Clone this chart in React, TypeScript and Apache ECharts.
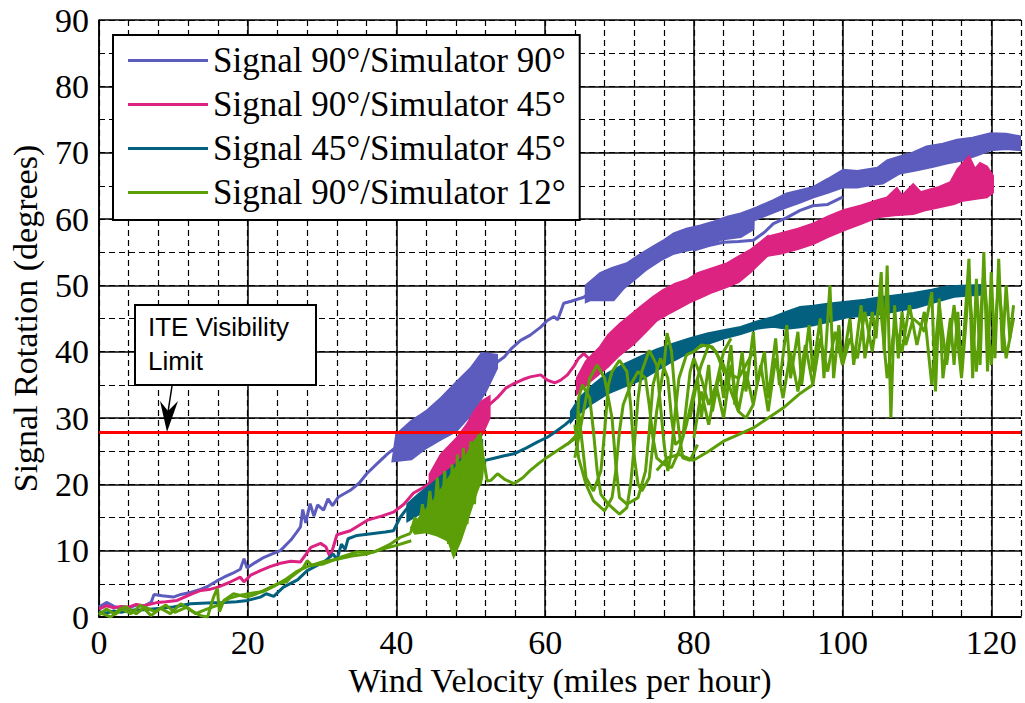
import React, { useEffect, useRef } from "react";
import * as echarts from "echarts";

// ---------- labels ----------
const seriesNames = [
  "Signal 90°/Simulator 90°",
  "Signal 90°/Simulator 45°",
  "Signal 45°/Simulator 45°",
  "Signal 90°/Simulator 12°",
];
const seriesColors = ["#5c5cbe", "#dc2382", "#03607f", "#5b9e08"];
const xTitle = "Wind Velocity (miles per hour)";
const yTitle = "Signal Rotation (degrees)";
const iteLimit = [27.8];

// ---------- Signal 90 / Simulator 90 (blue) ----------
const blueRise = [[0,1.5],[1,2.2],[2,1.6],[3,1.3],[4,1.4],[5,1.8],[6,1.6],[7,2.2],[7.4,3.4],[8.5,3.2],[10,3],[11,3.4],[12.3,3.7],[13.5,4.1],[14.6,4.6],[15.8,5.4],[16.8,6],[18,6.6],[19,7.2],[19.5,8.8],[19.9,7.4],[21,8.2],[22.2,9],[23.3,9.5],[24.4,10],[25.8,11.6],[26.6,12.8],[27.1,13.6],[27.4,16.2],[27.8,14.2],[28.4,17.1],[28.9,15.2],[29.4,16.9],[30.2,16.1],[30.8,17.8],[31.4,16.8],[32.2,18.1],[33.8,19.1],[35,20.2],[36,21.6],[37.3,23],[38.8,24.6],[40.5,26.1],[41.5,27.2]];
const blueBand1Upper = [[40,27.5],[42,29.5],[44,31],[46,33],[48,35.3],[50,37.5],[51.5,39.8],[53.5,39.5]];
const blueBand1Lower = [[39.5,23.5],[42,23.8],[44,25.5],[46,26.8],[48,28],[50,30.5],[52,34],[53.5,37.5]];
const blueLink = [[53,38],[54.5,39.2],[55.5,40.5],[56.7,41.7],[58,42.5],[59.4,43.7],[60.3,44.7],[61.2,45.3],[61.7,44.8],[62.5,47.3],[63.5,47.6],[65.2,48.2],[66.5,49.3]];
const blueBand2Upper = [[65.5,50],[67.4,51.8],[69,52.6],[71,53.3],[73,54.8],[74.5,55.8],[76,56.8],[77.3,57.8],[79,58.5],[80.9,59],[82.5,59.5],[84.5,60.3],[86.3,60.8],[88,61.5]];
const blueBand2Lower = [[65.5,47.5],[66.1,47.8],[69.2,47.8],[70.5,49.5],[71.9,50.8],[73.5,52.3],[75.5,53.8],[77.3,54.8],[79.1,55.3],[80.5,55.6],[82.2,56.3],[84,57],[86.3,57.3],[88,58.5]];
const blueBand3Upper = [[88,61.5],[90.7,62.8],[92.5,63.8],[94.3,64.3],[96.1,64.8],[98,66],[100.1,67.4],[102,67.2],[104.7,67.7],[106,68.8],[107.7,69.4],[109.5,70],[111.3,70.9],[113.5,71.3],[115.4,71.9],[117.5,72.2],[119.9,72.9],[122,72.8],[124,72.4]];
const blueBand3Lower = [[88,59.8],[90.7,61],[92.5,61.8],[94.3,62.5],[96.1,63.3],[98,64],[100.1,64.8],[102,64.8],[104,65.2],[105.4,65.4],[107.7,66.9],[110,67.4],[112.2,67.9],[114,68.4],[116.2,68.9],[118,69.6],[119.9,70.4],[122,70.6],[124,70.4]];
const blueReturn = [[80,55.3],[82,56],[84,56.5],[86,56.6],[88,56.8],[89.5,58],[90.7,59.3],[92.5,60.2],[94.3,61.3],[96,62],[98,62.2],[100,63.3]];

// ---------- Signal 90 / Simulator 45 (magenta) ----------
const magRise = [[0,1.2],[1,1.7],[2,1.4],[3,1.6],[4,1.5],[5,1.9],[6,1.7],[7.9,2.2],[9,2.3],[10.5,2.5],[11.5,3],[12.5,3.5],[13.7,4],[15,4.2],[16,4.5],[17.5,5.2],[19,6],[19.5,5.3],[20.4,6.3],[21.7,7],[23,7.6],[24.4,8.1],[25.8,8.4],[27.1,8.3],[28.5,10.5],[29.8,11.1],[30.5,10.6],[31.1,9],[32,12.4],[33.8,13],[36.1,14.6],[38,15.2],[39.6,15.8],[41,17],[42.3,18.7],[44.1,19.8],[45.5,21.5]];
const magBand1Upper = [[44.5,21.5],[46,24.5],[48,26.8],[49.5,29],[50.5,31],[51.5,32.5],[52.5,33.2]];
const magBand1Lower = [[44.5,19.5],[46,20.5],[48,22.3],[49.5,24.2],[50.5,26],[51.5,27.5],[52.5,30]];
const magLink = [[51.3,30.1],[52.5,32],[53.6,33.1],[54.7,34.5],[55.8,35.2],[57,35.8],[58,36.2],[59.4,36.5],[60.3,35.7],[61.3,35.3],[62.1,35.7],[63,36.5],[63.8,37.7],[64.5,39],[65.2,39.7],[66.1,38.7],[65.5,37],[64.7,34.2]];
const magBand2Upper = [[64.3,36],[65.5,38.5],[67.4,40.7],[68.5,42.5],[70.1,44.2],[71.5,45.5],[72.8,46.7],[74.5,48.2],[75.9,49.3],[77.5,50.2],[79.1,50.8],[80.5,51.8],[81.8,52.3],[83.2,52.8],[84.5,53.3],[86,54.3],[87.6,55.3],[89.9,57.3]];
const magBand2Lower = [[64.3,33.7],[66,35.5],[68.4,37.7],[70,39.5],[71.9,41.2],[73.5,43],[75,44.7],[76.5,45.7],[78.2,46.7],[79.5,47.5],[80.9,48.2],[82.5,49],[84.5,49.8],[86,50.5],[87.6,52],[89.9,54.5]];
const magBand3Upper = [[89.9,57.3],[91.6,57.8],[94,58.5],[96.1,59.3],[98,60.3],[100.1,61.3],[102.5,62],[104.7,62.8],[106,63.2],[107.3,64.6],[108,63.5],[109.5,65.2],[110.5,64],[112,64.5],[113,64.8],[114.5,65.5],[115.5,67.5],[116.2,68.4],[117,69.4],[117.8,67.5],[118.5,68.4],[119.4,67.9],[120.2,66.5]];
const magBand3Lower = [[89.9,54.5],[91.6,54.8],[94,55.5],[96.1,56.3],[98,57.3],[100.1,58.3],[102.5,59.3],[104.7,60.3],[107,60.6],[109.5,60.8],[111,61.3],[113,61.8],[115,62.3],[116.2,62.8],[118,63.1],[119.4,63.3],[120.2,64]];

// ---------- Signal 45 / Simulator 45 (teal) ----------
const tealRise = [[0,0.8],[1,0.6],[2,0.9],[3,0.7],[4,1],[6,1.1],[8,1.3],[10,1.5],[12.3,2],[14.5,2.1],[16.8,2.2],[18.5,2.3],[20,2.5],[21.7,3],[22.5,3.5],[23.5,3.1],[24.8,4.5],[26.7,5.6],[28,7],[29.4,7.8],[30.5,8.5],[31.5,9.5],[32,8.6],[32.6,11],[33.1,10.2],[33.5,11.8],[34.7,12.3],[36.9,12.6],[38.5,12.8],[39.6,13],[40.5,15],[41.5,16.5],[42.8,18]];
const tealBand1Upper = [[41.5,17],[43,18.5],[44.5,19.8],[46,21.2],[47.5,22.5],[49,24],[50.5,25.5],[51.5,26.5]];
const tealBand1Lower = [[41.5,14.5],[43,15.5],[44.5,16.5],[46,17.3],[47.5,18.5],[49,20],[50.5,21.8],[51.5,23]];
const tealLink = [[50,23.1],[51.5,23.5],[53,23.9],[54.5,24.3],[55.8,24.6],[57.5,25.5],[59,26.4],[60.3,27.1],[61.5,28],[62.7,29],[63.8,30.1],[64.7,32.3]];
const tealBand2Upper = [[63.5,31],[64.7,33.1],[66.5,35],[68.4,36.7],[70.5,38],[72.8,39.2],[75,40.3],[77.3,41.2],[79.5,42],[81.8,42.7],[84,43.2],[86.3,43.7],[88.5,44.5],[90.7,45.2],[92.5,46],[94.3,46.7],[96.1,46.9],[98,47.2],[100.5,47.5],[103,47.8],[105.3,48.2],[107.5,48.5],[109.5,48.8],[112,49.3],[114,49.8],[116,49.9],[118.5,50]];
const tealBand2Lower = [[63.5,29.5],[64,30.2],[66,32],[68.4,33.7],[70.5,34.7],[72.8,35.7],[75,37.2],[77.3,38.7],[79.5,40],[81.8,41.2],[84,42],[86.3,42.7],[88.5,43.5],[90.7,43.8],[92.5,43.5],[94.3,43.7],[96.1,44],[98,44.5],[100.5,45.2],[103,45.5],[105.3,45.7],[107.5,46.2],[110,46.7],[112.5,47.5],[115,48.3],[117,48.5],[118.5,48.6]];

// ---------- Signal 90 / Simulator 12 (green) ----------
const greenRise = [[0,0.7],[1.6,0],[2.9,1.3],[4.3,0.5],[5.6,1.8],[7,0.2],[8.3,1.3],[9.6,0.5],[11,2],[12.3,1],[13.7,0.2],[14.6,0],[15.4,3],[15.9,4.3],[16.2,0.8],[16.8,2.5],[18.1,3.5],[19.9,3],[21,3.4],[22.2,4],[24,5],[25.2,5.3],[25.8,6],[27,7],[27.5,7.5],[28,8.5],[28.6,7.8],[30.2,8],[32.5,9],[34.7,9.8],[37,9.8],[39.2,11],[40.5,12],[41.9,12.6]];
const greenRise2 = [[0,0.3],[1,1.2],[2.2,0.4],[3.5,1.6],[5,0.5],[6.2,1.5],[7.5,0.8],[9,1.8],[10.2,0.7],[11.8,1.5],[13,0.5],[14.5,1.2],[16,1.8],[17.5,2.8],[19,3.3],[20.5,3.6],[22,3.8],[23.5,4.6],[25,5.6],[26.5,6.8],[28,7.6],[30,8.3],[32,8.7],[34,9.2],[36,9.5],[38,10.2],[40,10.8],[42,11.5]];
const greenBlob = [[42,13.5],[43.5,15.5],[45,17.5],[46.5,20],[48,22.5],[49.5,24.5],[50.5,26.5],[51.3,27.5],[51.7,24],[51.5,21],[50.5,18],[49.5,14.5],[48.6,11.5],[47.7,9.2],[47,11.5],[45.5,12.3],[44,12.8],[42.5,12.6]];
const greenBlobZig = [[41.9,12.6],[42.5,15],[43,13],[43.5,17],[44,13.5],[44.5,19],[45,14],[45.5,21],[46,13],[46.5,22],[47,11],[47.5,23],[47.8,9.2],[48.2,24.5],[48.6,12],[49,25.5],[49.5,14],[50,26.5],[50.5,17],[51,27.5],[51.3,20],[51.7,24],[52.2,20.5],[52.7,20.6],[53.6,21.6],[54.5,20.8],[55.8,20.1],[57,21],[58,22.1],[59.2,23.2],[60.3,24.1],[61.5,25],[63,26.1],[64.3,27.1]];
const greenChaosA = [[63,26],[64.3,27.5],[64.5,33],[65,35],[66,33],[66.5,28],[67,22],[67.5,18.5],[68.5,17],[70,15.5],[71,16.5],[71.5,20],[72,26],[72.5,33],[73,37],[74,40.2],[75,38],[75.5,32],[76,26],[76.5,22],[77,25],[77.5,31],[78,36],[79,39.5],[80,40],[81,41],[82.5,40.7],[84,38],[85,34],[86,31],[87,30],[88,32]];
const greenChaosB = [[64.5,31],[65,26],[65.5,21],[66.5,19],[67.5,22],[68,28],[68.5,35],[69,37],[70,38.7],[71,37],[71.5,32],[72,24],[72.5,20],[73,19],[74,21],[74.5,26],[75,31],[76,38],[76.4,42.8],[77,40],[77.5,33],[78,28],[78.5,24],[79.5,23.6],[80.5,26]];
const greenChaosC = [[64,24],[65,30],[66,36],[67,38],[68,36],[69,30],[69.5,23],[70,18],[71,17],[72.5,18],[73.5,22],[74,28],[74.5,35],[75.5,39],[76.5,36],[77,30],[77.5,26],[78.5,27],[79,32],[79.5,37],[80,39],[81,36],[82,32],[83,35],[84,40],[85,42]];
const greenChaosD = [[64,29],[64.5,24],[65.5,20],[66.5,17.5],[68,16],[69,18],[69.5,22],[70,28],[70.5,32],[71.5,35],[72.5,37],[73.5,36],[74,32],[74.5,27],[75,24],[76,23],[77,22.5],[78,25],[79,29],[80,34],[81,38],[82,41],[83,40],[84,37],[86,36],[88,40]];
const greenCross = [[75,22.1],[76.5,24],[78,24.5],[79.9,23.6],[82,25],[84,26.5],[86,27.5],[88,28.5],[90,30],[92,31.5],[94.3,33.7],[96,35]];
const greenOscA = [[79.5,30],[80.5,36],[81,30],[82,38],[82.5,31],[83.5,37],[84,33],[85,41],[85.5,32],[86.5,40],[87,34],[88,43],[88.5,35],[89.5,40],[90,33],[91,42],[91.5,35],[92.5,44],[93,36],[94,43],[94.5,35],[95.5,44],[96,37],[97,45],[97.5,36],[98.3,50],[98.8,36],[99.5,44],[100,38],[101,45],[101.5,38],[102.5,47],[103,39],[104,46],[104.5,42],[105.2,52],[105.6,40],[106,53],[106.5,30],[107,47],[107.5,39],[108,46],[108.5,41],[109.5,45],[110.5,44],[111,43],[112,49],[112.5,34],[113,48],[113.5,36],[114.5,45],[115,38],[115.5,46],[116,37],[117,54],[117.5,36],[118,51],[118.5,38],[119,55],[119.5,37],[120,52],[120.5,39],[121,54],[121.5,40],[122,50],[122.5,42],[123,47]];
const greenOscB = [[80,27],[81,34],[82,29],[83,35],[84,30],[85,38],[86,31],[87,37],[88,32],[89,38],[90,31],[91,39],[92,33],[93,40],[94,34],[95,41],[96,35],[97,42],[98,37],[99,43],[100,38],[101,42],[102,39],[103,46],[104,40],[105,48],[106,36],[107,44],[108,40],[109,47],[110,41],[111,46],[112,35],[113,47],[114,38],[115,47],[116,36],[117,50],[118,37],[119,52],[120,38],[121,50],[122,39],[123,45]];

const SERIF = "Liberation Serif";
const SANS = "Liberation Sans";

function lineS(data: number[][], color: string, z: number) {
  return {
    type: "line",
    data,
    xAxisIndex: 0,
    yAxisIndex: 0,
    symbol: "none",
    showSymbol: false,
    silent: true,
    z,
    lineStyle: { color, width: 3 },
    itemStyle: { color },
  };
}

function bandS(upper: number[][], lower: number[][], color: string, z: number) {
  const poly = upper.concat(lower.slice().reverse());
  return {
    type: "custom",
    coordinateSystem: "cartesian2d",
    xAxisIndex: 0,
    yAxisIndex: 0,
    data: poly,
    silent: true,
    clip: true,
    z,
    renderItem: (params: any, api: any) => {
      if (params.dataIndex !== 0) return null;
      const pts = poly.map((p) => api.coord(p));
      return {
        type: "polygon",
        shape: { points: pts },
        style: { fill: color, stroke: color, lineWidth: 2.5 },
      };
    },
  };
}

export default function App() {
  const ref = useRef<HTMLDivElement>(null);
  useEffect(() => {
    if (!ref.current) return;
    const chart = echarts.init(ref.current, undefined, { renderer: "svg" });
    const [cB, cM, cT, cG] = seriesColors;
    const dashed = { color: "#000", width: 1.2, type: [6, 4] };
    const solid = { color: "#000", width: 1.5 };
    const series: any[] = [
      { ...lineS(blueRise, cB, 3), name: seriesNames[0] },
      bandS(blueBand1Upper, blueBand1Lower, cB, 3),
      lineS(blueLink, cB, 3),
      bandS(blueBand2Upper, blueBand2Lower, cB, 3),
      bandS(blueBand3Upper, blueBand3Lower, cB, 3),
      lineS(blueReturn, cB, 3),
      { ...lineS(magRise, cM, 4), name: seriesNames[1] },
      bandS(magBand1Upper, magBand1Lower, cM, 4),
      lineS(magLink, cM, 4),
      bandS(magBand2Upper, magBand2Lower, cM, 4),
      bandS(magBand3Upper, magBand3Lower, cM, 4),
      { ...lineS(tealRise, cT, 5), name: seriesNames[2] },
      bandS(tealBand1Upper, tealBand1Lower, cT, 5),
      lineS(tealLink, cT, 5),
      bandS(tealBand2Upper, tealBand2Lower, cT, 5),
      { ...lineS(greenRise, cG, 6), name: seriesNames[3] },
      lineS(greenRise2, cG, 6),
      bandS(greenBlob, [], cG, 6),
      lineS(greenBlobZig, cG, 6),
      lineS(greenChaosA, cG, 6),
      lineS(greenChaosB, cG, 6),
      lineS(greenChaosC, cG, 6),
      lineS(greenChaosD, cG, 6),
      lineS(greenCross, cG, 6),
      lineS(greenOscA, cG, 6),
      lineS(greenOscB, cG, 6),
      {
        type: "line",
        data: [],
        xAxisIndex: 0,
        yAxisIndex: 0,
        z: 10,
        silent: true,
        markLine: {
          symbol: "none",
          silent: true,
          label: { show: false },
          lineStyle: { color: "#ff0000", width: 3, type: "solid" },
          data: [{ yAxis: iteLimit[0] }],
        },
      },
    ];

    chart.setOption({
      animation: false,
      backgroundColor: "#fff",
      grid: { left: 98, top: 20, width: 923, height: 597, containLabel: false },
      xAxis: [
        {
          type: "value",
          min: 0,
          max: 124,
          interval: 20,
          position: "bottom",
          name: xTitle,
          nameLocation: "middle",
          nameGap: 46,
          nameTextStyle: { fontFamily: SERIF, fontSize: 34, color: "#000" },
          axisLine: { show: true, lineStyle: solid },
          axisTick: { show: false },
          axisLabel: {
            fontFamily: SERIF,
            fontSize: 34,
            color: "#000",
            margin: 8,
            showMaxLabel: false,
            formatter: (v: number) => (v % 20 === 0 ? String(v) : ""),
          },
          splitLine: { show: true, showMaxLine: false, lineStyle: solid },
        },
        {
          type: "value",
          min: 0,
          max: 124,
          interval: 4,
          position: "top",
          axisLine: { show: true, lineStyle: solid },
          axisTick: { show: false },
          axisLabel: { show: false },
          splitLine: { show: true, lineStyle: dashed },
        },
      ],
      yAxis: [
        {
          type: "value",
          min: 0,
          max: 90,
          interval: 10,
          name: yTitle,
          nameLocation: "middle",
          nameGap: 57,
          nameRotate: 90,
          nameTextStyle: { fontFamily: SERIF, fontSize: 34, color: "#000" },
          axisLine: { show: true, lineStyle: solid },
          axisTick: { show: false },
          axisLabel: { fontFamily: SERIF, fontSize: 34, color: "#000", margin: 10 },
          splitLine: { show: true, lineStyle: solid },
        },
        {
          type: "value",
          min: 0,
          max: 90,
          interval: 5,
          position: "left",
          axisLine: { show: false },
          axisTick: { show: false },
          axisLabel: { show: false },
          splitLine: { show: true, lineStyle: dashed },
        },
      ],
      legend: {
        orient: "vertical",
        left: 113,
        top: 35,
        padding: [8, 14, 10, 15],
        itemGap: 9,
        itemWidth: 80,
        itemHeight: 3,
        icon: "rect",
        backgroundColor: "#fff",
        borderColor: "#000",
        borderWidth: 2,
        selectedMode: false,
        textStyle: { fontFamily: SERIF, fontSize: 35, color: "#000", lineHeight: 34 },
        data: seriesNames.map((n, i) => ({ name: n, itemStyle: { color: seriesColors[i] } })),
      },
      graphic: [
        {
          type: "rect",
          z: 20,
          shape: { x: 135, y: 305, width: 181, height: 80 },
          style: { fill: "#fff", stroke: "#000", lineWidth: 2 },
        },
        {
          type: "text",
          z: 21,
          x: 148,
          y: 310,
          style: { text: "ITE Visibility\nLimit", font: `26px "${SANS}"`, fill: "#000", lineHeight: 34 },
        },
        {
          type: "line",
          z: 21,
          shape: { x1: 172, y1: 386, x2: 168, y2: 412 },
          style: { stroke: "#000", lineWidth: 1.5 },
        },
        {
          type: "polygon",
          z: 21,
          shape: { points: [[160, 401], [167, 432], [178, 401], [168, 411]] },
          style: { fill: "#000" },
        },
      ],
      series,
    });
    return () => chart.dispose();
  }, []);
  return (
    <div
      ref={ref}
      style={{ position: "absolute", left: 0, top: 0, width: 1025, height: 703 }}
    />
  );
}
